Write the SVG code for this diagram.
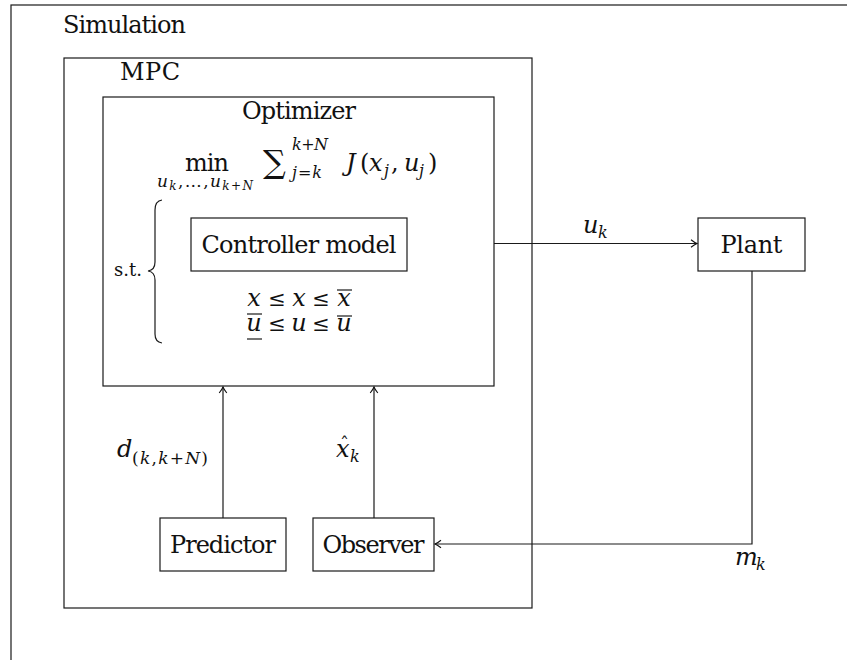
<svg xmlns="http://www.w3.org/2000/svg" width="847" height="660" viewBox="0 0 847 660" font-family="DejaVu Serif, serif">
<defs>
<marker id="arr" viewBox="-8 -5 10 10" refX="0" refY="0" markerWidth="10" markerHeight="10" markerUnits="userSpaceOnUse" orient="auto">
<path d="M-6,-3.8 Q-2.5,-1 0,0 Q-2.5,1 -6,3.8" fill="none" stroke="#111" stroke-width="1.1"/>
</marker>
<style>
.box{fill:none;stroke:#1a1a1a;stroke-width:1.2}
.ln{fill:none;stroke:#1a1a1a;stroke-width:1.2}
text{fill:#111}
.rm{font-size:24px}
.mi{font-size:24px;font-style:italic}
.ms{font-size:16px;font-style:italic}
.le{font-size:21px}
.c{text-anchor:middle}
</style>
</defs>
<g id="simulation">
<rect class="box" x="11" y="5" width="900" height="700"/>
<text class="rm" x="63" y="33" textLength="123">Simulation</text>
</g>
<g id="mpc">
<rect class="box" x="64" y="58" width="468" height="550"/>
<text class="rm" x="120" y="80" textLength="60">MPC</text>
</g>
<g id="optimizer">
<rect class="box" x="103" y="97" width="391" height="289"/>
<text class="rm c" x="299" y="119" textLength="114">Optimizer</text>
<text class="rm" x="185" y="171" textLength="44">min</text>
<text class="c" x="205" y="187" font-size="17" textLength="96"><tspan font-style="italic">u</tspan><tspan font-style="italic" font-size="12" dy="3">k</tspan><tspan dy="-3">,…,</tspan><tspan font-style="italic">u</tspan><tspan font-style="italic" font-size="12" dy="3">k+N</tspan></text>
<text x="263" y="173" font-size="32">∑</text>
<text x="292" y="150" font-size="16" textLength="36"><tspan font-style="italic">k</tspan>+<tspan font-style="italic">N</tspan></text>
<text x="292" y="178" font-size="16" textLength="30"><tspan font-style="italic">j</tspan>=<tspan font-style="italic">k</tspan></text>
<text class="mi" x="346" y="171">J</text>
<text class="rm" x="360" y="171">(</text>
<text class="mi" x="369" y="171">x</text>
<text class="ms" x="384" y="176">j</text>
<text class="rm" x="391" y="171">,</text>
<text class="mi" x="404" y="171">u</text>
<text class="ms" x="419" y="176">j</text>
<text class="rm" x="428" y="171">)</text>
<path class="ln" d="M162,200 Q155,201 155,210 L155,262 Q155,270 148,271 Q155,272 155,280 L155,334 Q155,342 162,343"/>
<text x="114" y="276" font-size="18" textLength="28">s.t.</text>
<text class="mi c" x="254" y="306">x</text>
<line class="ln" x1="247" y1="314" x2="262" y2="314"/>
<text class="le c" x="277" y="306">≤</text>
<text class="mi c" x="299" y="306">x</text>
<text class="le c" x="321" y="306">≤</text>
<text class="mi c" x="344" y="306">x</text>
<line class="ln" x1="337" y1="290" x2="352" y2="290"/>
<text class="mi c" x="254" y="331">u</text>
<line class="ln" x1="247" y1="339" x2="262" y2="339"/>
<text class="le c" x="277" y="331">≤</text>
<text class="mi c" x="299" y="331">u</text>
<text class="le c" x="321" y="331">≤</text>
<text class="mi c" x="344" y="331">u</text>
<line class="ln" x1="337" y1="316" x2="352" y2="316"/>
</g>
<g id="controller-model">
<rect class="box" x="191" y="218" width="216" height="53"/>
<text class="rm c" x="299" y="253" textLength="195">Controller model</text>
</g>
<g id="plant">
<rect class="box" x="698" y="218" width="107" height="53"/>
<text class="rm c" x="751.5" y="253" textLength="62">Plant</text>
</g>
<g id="predictor">
<rect class="box" x="160" y="518" width="126" height="53"/>
<text class="rm c" x="223" y="553" textLength="106">Predictor</text>
</g>
<g id="observer">
<rect class="box" x="313" y="518" width="121" height="53"/>
<text class="rm c" x="373.5" y="553" textLength="102">Observer</text>
</g>
<g id="connectors">
<line class="ln" x1="494" y1="243.5" x2="697" y2="243.5" marker-end="url(#arr)"/>
<polyline class="ln" points="752,271 752,544 435,544" marker-end="url(#arr)"/>
<line class="ln" x1="223" y1="518" x2="223" y2="387" marker-end="url(#arr)"/>
<line class="ln" x1="374" y1="518" x2="374" y2="387" marker-end="url(#arr)"/>
<text class="mi" x="583" y="233">u</text>
<text class="ms" x="598" y="238">k</text>
<text class="mi" x="735" y="565">m</text>
<text class="ms" x="756" y="570">k</text>
<text class="mi" x="117" y="457">d</text>
<text x="132" y="464" font-size="17" textLength="76">(<tspan font-style="italic">k</tspan>,<tspan font-style="italic">k</tspan>+<tspan font-style="italic">N</tspan>)</text>
<text class="mi" x="336" y="457">x</text>
<text x="340" y="451" font-size="18">ˆ</text>
<text class="ms" x="350" y="462">k</text>
</g>
</svg>
